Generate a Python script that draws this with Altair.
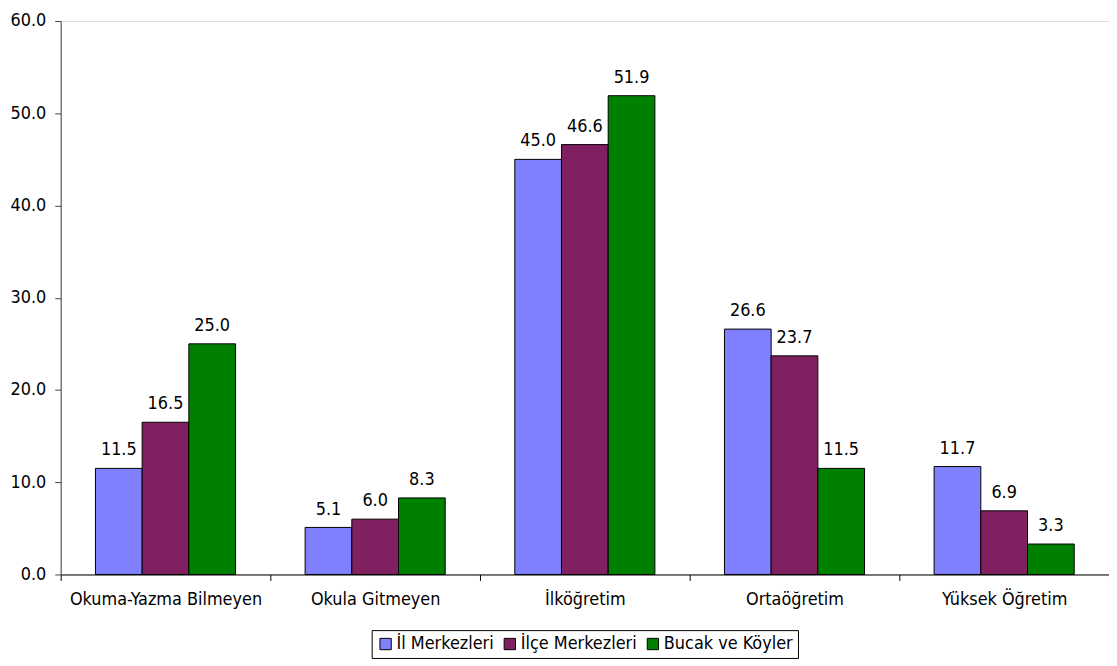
import altair as alt
import pandas as pd

categories = ["Okuma-Yazma Bilmeyen", "Okula Gitmeyen", "İlköğretim", "Ortaöğretim", "Yüksek Öğretim"]
series = ["İl Merkezleri", "İlçe Merkezleri", "Bucak ve Köyler"]
il_merkezleri = [11.5, 5.1, 45.0, 26.6, 11.7]
ilce_merkezleri = [16.5, 6.0, 46.6, 23.7, 6.9]
bucak_koyler = [25.0, 8.3, 51.9, 11.5, 3.3]
colors = ["#8080FF", "#802060", "#008000"]

rows = []
for s, vals in zip(series, [il_merkezleri, ilce_merkezleri, bucak_koyler]):
    for c, v in zip(categories, vals):
        rows.append({"kategori": c, "seri": s, "deger": v})
df = pd.DataFrame(rows)

FONT = "DejaVu Sans Condensed, DejaVu Sans"
FS = 18

x = alt.X("kategori:N", sort=categories, title=None,
          scale=alt.Scale(paddingInner=0, paddingOuter=0),
          axis=alt.Axis(labelAngle=0, tickBand="extent", domainColor="#000000",
                        tickColor="#000000", tickSize=6, labelPadding=10, labelLimit=0,
                        labelFont=FONT, labelFontSize=FS, labelColor="#000000"))
xo = alt.XOffset("seri:N", sort=series,
                 scale=alt.Scale(paddingInner=0, paddingOuter=0.745))
y = alt.Y("deger:Q", title=None,
          scale=alt.Scale(domain=[0, 60], nice=False),
          axis=alt.Axis(values=[0, 10, 20, 30, 40, 50, 60], format=".1f", grid=False,
                        domainColor="#444444", tickColor="#444444", tickSize=6,
                        labelPadding=9, labelFont=FONT, labelFontSize=FS,
                        labelColor="#000000"))

bars = alt.Chart(df).mark_bar(stroke="#000000", strokeWidth=1).encode(
    x=x, xOffset=xo, y=y,
    color=alt.Color("seri:N", sort=series,
                    scale=alt.Scale(domain=series, range=colors),
                    legend=alt.Legend(title=None, orient="none", direction="horizontal",
                                      legendX=313, legendY=613,
                                      symbolType="square", symbolSize=130,
                                      symbolStrokeColor="#000000", symbolStrokeWidth=1,
                                      symbolOpacity=1,
                                      labelFont=FONT, labelFontSize=FS, labelColor="#000000",
                                      labelOffset=2, columnPadding=7,
                                      strokeColor="#000000", padding=5)),
)

labels = alt.Chart(df).mark_text(baseline="alphabetic", dy=-13, font=FONT,
                                 fontSize=FS, color="#000000").encode(
    x=x, xOffset=xo, y=y,
    text=alt.Text("deger:Q", format=".1f"),
)

chart = alt.layer(bars, labels).properties(
    width=1055, height=557,
    autosize=alt.AutoSizeParams(type="none"),
    padding={"left": 53, "top": 11, "right": 0, "bottom": 85},
).configure_view(stroke=None).configure(background="#FFFFFF")

chart.save("out.html", embed_options={"renderer": "svg", "actions": False})
